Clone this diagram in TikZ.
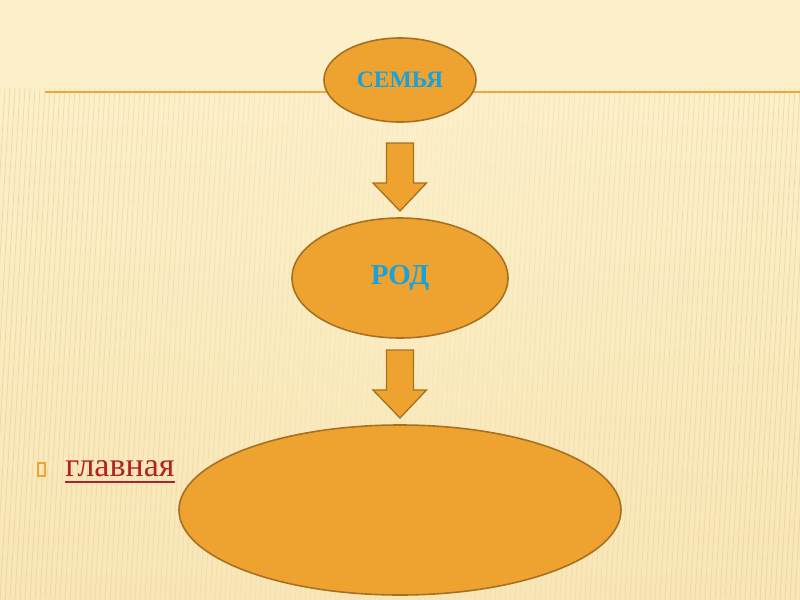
\documentclass[tikz,border=0pt]{standalone}
\usepackage{fontspec}
\setmainfont{Liberation Serif}
\usetikzlibrary{shapes.geometric,calc}
\definecolor{bgcream}{HTML}{FCF0CA}
\definecolor{bandcream}{HTML}{F8E6B6}
\definecolor{stripe}{HTML}{E6C985}
\definecolor{orfill}{HTML}{EEA330}
\definecolor{ordraw}{HTML}{A8701F}
\definecolor{rule}{HTML}{EFA640}
\definecolor{txtblue}{HTML}{1BA1DA}
\definecolor{linkred}{HTML}{B32025}
\tikzset{
  oval/.style={ellipse, draw=ordraw, fill=orfill, line width=1.2pt, inner sep=0pt},
  ovaltext/.style={text=txtblue},
  downarrow/.style={draw=ordraw, fill=orfill, line width=1pt, line join=miter}
}
\begin{document}
\begin{tikzpicture}[x=0.75pt,y=-0.75pt]
\useasboundingbox (0,0) rectangle (800,600);
% background
\fill[bgcream] (0,0) rectangle (800,600);
\shade[top color=bgcream, bottom color=bandcream] (0,85) rectangle (800,600);
\foreach \i in {0,5,...,830} {
  \pgfmathsetmacro{\op}{0.1+0.45*abs(\i-415)/415}
  \draw[stripe, opacity=\op, line width=0.6pt] (\i,88) -- (\i-30,600);
}
% rule
\draw[rule, line width=1.6pt] (45,92) -- (800,92);
% nodes
\node[oval, minimum width=114pt, minimum height=63pt] (semya) at (400,80) {};
\node[ovaltext, font=\bfseries\fontsize{17.7}{20}\selectfont] (semyatext) at (semya.center) {СЕМЬЯ};
\node[oval, minimum width=162pt, minimum height=90pt] (rod) at (400,278) {};
\node[ovaltext, font=\bfseries\fontsize{21.7}{25}\selectfont] (rodtext) at (rod.center) {РОД};
\node[oval, minimum width=331.5pt, minimum height=127.5pt] (big) at (400,510) {};
% arrows
\coordinate (a1) at (400,143);
\draw[downarrow] ($(a1)+(-13.5,0)$) -- ++(27,0) -- ++(0,40) -- ++(13,0) -- (400,211) -- (373,183) -- ++(13.5,0) -- cycle;
\coordinate (a2) at (400,350);
\draw[downarrow] ($(a2)+(-13.5,0)$) -- ++(27,0) -- ++(0,40) -- ++(13,0) -- (400,418) -- (373,390) -- ++(13.5,0) -- cycle;
% bullet and link
\draw[orfill, line width=0.8pt] (38,463) rectangle (45,476);
\node[anchor=base west, inner sep=0pt, text=linkred, font=\fontsize{25.5}{30}\selectfont] (link) at (65,476) {главная};
\draw[linkred, line width=1.6pt] (link.base west) ++(0,6) -- ($(link.base east)+(0,6)$);
\end{tikzpicture}
\end{document}
